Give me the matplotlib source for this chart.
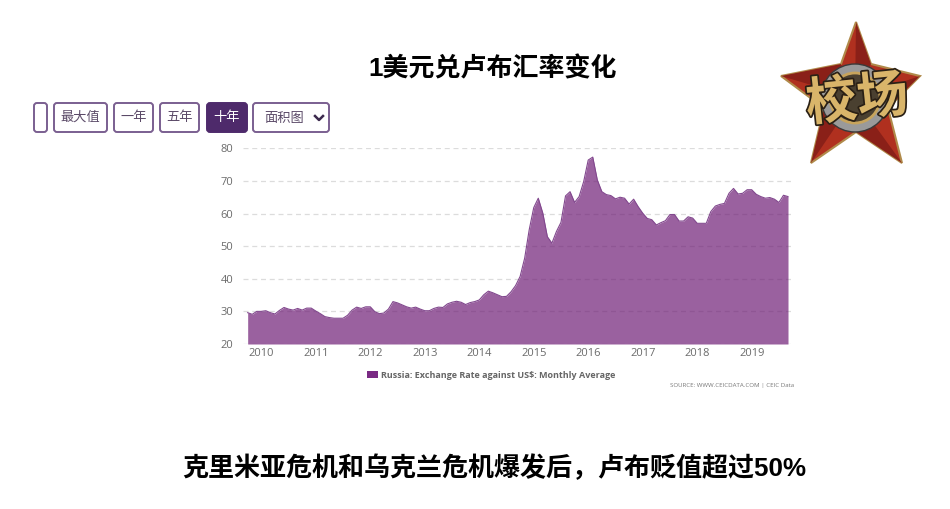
import matplotlib
matplotlib.use("Agg")
import matplotlib.pyplot as plt
import matplotlib.patheffects as pe
from matplotlib.patches import FancyBboxPatch, Polygon, Circle, Rectangle
import numpy as np
import pandas as pd

plt.rcParams['font.family'] = ['Liberation Sans', 'Noto Sans CJK SC', 'DejaVu Sans']

months = pd.date_range("2009-10-01", "2019-09-01", freq="MS")
rate = [
    29.6, 29.1, 30.0,
    30.0, 30.2, 29.6, 29.2, 30.3, 31.2, 30.7, 30.4, 30.9, 30.4, 31.0, 31.0,
    30.1, 29.3, 28.4, 28.1, 27.9, 27.9, 27.9, 28.8, 30.4, 31.3, 30.9, 31.4,
    31.4, 29.9, 29.3, 29.5, 30.7, 33.0, 32.6, 32.0, 31.4, 31.0, 31.3, 30.7,
    30.2, 30.2, 30.9, 31.3, 31.2, 32.3, 32.8, 33.1, 32.8, 32.1, 32.7, 33.0,
    33.5, 35.1, 36.2, 35.7, 35.1, 34.5, 34.6, 36.0, 37.9, 40.7, 46.3, 55.0,
    61.8, 64.7, 60.1, 52.9, 50.9, 54.5, 57.3, 65.4, 66.7, 63.4, 65.2, 69.8,
    76.4, 77.3, 70.3, 66.7, 65.8, 65.5, 64.5, 65.0, 64.7, 62.9, 64.4, 62.1,
    60.1, 58.5, 58.1, 56.5, 57.2, 57.8, 59.7, 59.7, 57.7, 57.7, 59.0, 58.6,
    57.0, 57.0, 57.0, 60.6, 62.3, 62.8, 63.1, 66.2, 67.7, 66.0, 66.2, 67.3,
    67.3, 65.9, 65.2, 64.7, 64.9, 64.4, 63.4, 65.6, 65.2,
]
y_ticks = [20, 30, 40, 50, 60, 70, 80]
year_ticks = list(range(2010, 2020))
buttons = ["", "最大值", "一年", "五年", "十年"]

W, H = 950, 509
fig = plt.figure(figsize=(W / 100, H / 100), dpi=100)

# overlay in pixel coordinates for the page furniture
page = fig.add_axes([0, 0, 1, 1])
page.set_xlim(0, W)
page.set_ylim(H, 0)
page.axis("off")

# chart itself
ax = fig.add_axes([243 / W, 1 - 344 / H, 550 / W, 195.7 / H])
x = np.arange(len(rate))
ax.fill_between(x, rate, 20, color="#6f1e76", alpha=0.7, lw=0, zorder=3)
ax.plot(x, rate, color="#82488e", lw=0.8, zorder=4)
ax.set_xlim(-1.03, 120.1)
ax.set_ylim(20, 80)
ax.set_yticks(y_ticks)
ax.set_xticks([list(months.year).index(y) for y in year_ticks])
ax.set_xticklabels(year_ticks)
ax.grid(axis="y", color="#dcdcdc", ls=(0, (4, 3)), lw=0.9, zorder=1)
ax.tick_params(axis="y", length=0, labelsize=8, labelcolor="#6b6b6b", pad=7)
ax.tick_params(axis="x", length=0, labelsize=8, labelcolor="#6b6b6b", pad=3)
for lab in ax.get_xticklabels() + ax.get_yticklabels():
    lab.set_family(["Open Sans"])
for s in ax.spines.values():
    s.set_visible(False)
ax.patch.set_alpha(0)

# titles
page.text(493, 68.5, "1美元兑卢布汇率变化", ha="center", va="center",
          fontsize=18.7, fontweight="bold", color="black")
page.text(494, 468, "克里米亚危机和乌克兰危机爆发后，卢布贬值超过50%", ha="center", va="center",
          fontsize=18.75, fontweight="bold", color="black")

# buttons
edges = [(34, 47), (54, 107), (114, 153), (160, 199), (207, 247)]
for (x0, x1), lab in zip(edges, buttons):
    active = lab == "十年"
    page.add_patch(FancyBboxPatch((x0, 103), x1 - x0, 29, boxstyle="round,pad=0,rounding_size=3",
                                  fc="#4e2a6b" if active else "white", ec="#4e2a6b" if active else "#7a5f90", lw=1.4))
    page.text((x0 + x1) / 2, 117.5, lab, ha="center", va="center", fontsize=9.5,
              color="white" if active else "#5b4a68", family=["Noto Sans CJK SC"])
page.add_patch(FancyBboxPatch((253, 103), 76, 29, boxstyle="round,pad=0,rounding_size=3",
                              fc="white", ec="#7a5f90", lw=1.4))
page.text(284, 118, "面积图", ha="center", va="center", fontsize=9.5, color="#5b4a68",
          family=["Noto Sans CJK SC"])
page.plot([315, 319, 323], [116, 120, 116], color="#3c2a4d", lw=1.8)

# legend and source
page.add_patch(Rectangle((367, 371), 11, 7, fc="#7a2a84", ec="none"))
page.text(381, 375, "Russia: Exchange Rate against US\\$: Monthly Average", va="center",
          fontsize=6.5, fontweight="bold", color="#666666", family=["Open Sans"])
page.text(794, 385, "SOURCE: WWW.CEICDATA.COM | CEIC Data", ha="right", va="center",
          fontsize=4.4, color="#777777", family=["Open Sans"])

# logo: red star, grey badge, gold lettering
cx, cy = 855, 98
tips = [(856, 22), (920, 76), (902, 163), (811, 163), (781, 76)]
inner = [(871, 64), (888, 108), (856, 132), (824, 108), (841, 64)]
star = [p for pair in zip(tips, inner) for p in pair]
page.add_patch(Polygon(star, closed=True, fc="#b0301f", ec="#b08a4a", lw=1.5))
for tip, a in zip(tips, inner):
    page.add_patch(Polygon([tip, a, (cx, cy)], closed=True, fc="#8a2018", ec="none"))
page.add_patch(Circle((cx, cy), 34, fc="#9a9a9a", ec="#3a3a3a", lw=1))
page.add_patch(Circle((cx, cy), 25, fc="#4a4030", ec="#c7a45c", lw=2))
page.text(857, 100, "校场", ha="center", va="center", fontsize=37, fontweight="bold",
          color="#d9b56a", rotation=6, family=["Noto Sans CJK SC"],
          path_effects=[pe.withStroke(linewidth=2.5, foreground="#2a2015")])

fig.savefig("out.png", dpi=100)
